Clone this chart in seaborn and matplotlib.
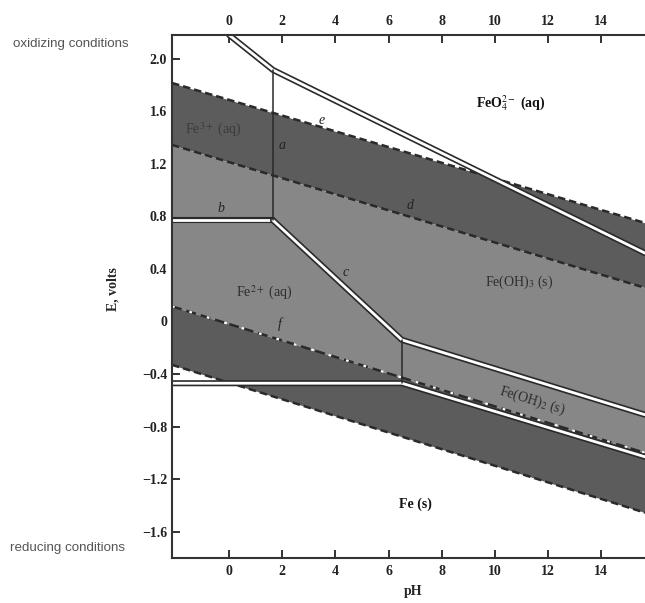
import matplotlib
matplotlib.use("Agg")
import matplotlib.pyplot as plt
import seaborn as sns
import numpy as np

# ----------------------------
# Pourbaix diagram for iron
# ----------------------------
ph_edges = [-2.15, 15.65]

# water stability lines (with overvoltage bands)
e_o2_over = [1.815, 0.75]    # upper dashed line
e_o2 = [1.344, 0.256]        # line d
e_h2 = [0.115, -1.0]         # line f
e_h2_over = [-0.33, -1.455]  # lower dashed line

# phase boundaries
line_e_ph = [0.0, 1.65, 15.65]
line_e_E = [2.18, 1.914, 0.52]
line_a_ph = [1.65, 1.65]
line_a_E = [1.914, 0.77]
line_b_ph = [-2.15, 1.65]
line_b_E = [0.77, 0.77]
line_c_ph = [1.65, 6.5, 15.65]
line_c_E = [0.77, -0.14, -0.71]
line_v_ph = [6.5, 6.5]
line_v_E = [-0.14, -0.47]
line_fe_ph = [-2.15, 6.5, 15.65]
line_fe_E = [-0.47, -0.47, -1.03]

xticks = [0, 2, 4, 6, 8, 10, 12, 14]
yticks = [2.0, 1.6, 1.2, 0.8, 0.4, 0, -0.4, -0.8, -1.2, -1.6]
ytick_labels = ["2.0", "1.6", "1.2", "0.8", "0.4", "0", "\u22120.4", "\u22120.8", "\u22121.2", "\u22121.6"]

dark = "#5c5c5c"
mid = "#878787"
ink = "#2a2a2a"

sns.set_theme(style="white")
plt.rcParams["font.family"] = ["Liberation Serif", "DejaVu Serif"]
plt.rcParams["mathtext.fontset"] = "stix"

fig = plt.figure(figsize=(6.45, 6.03), dpi=100)
ax = fig.add_axes([172/645, 45/603, 473/645, 523/603])

# shaded regions
ax.fill_between(ph_edges, e_o2, e_o2_over, color=dark, lw=0)
ax.fill_between(ph_edges, e_h2, e_o2, color=mid, lw=0)
ax.fill_between(ph_edges, e_h2_over, e_h2, color=dark, lw=0)

# dashed water lines
for yy in (e_o2_over, e_o2, e_h2_over):
    sns.lineplot(x=ph_edges, y=yy, ax=ax, color=ink, lw=1.8, estimator=None, sort=False)
    ax.lines[-1].set_dashes((3, 1.6))
sns.lineplot(x=ph_edges, y=e_h2, ax=ax, color=ink, lw=1.8, estimator=None, sort=False)
ax.lines[-1].set_dashes((4, 2))
sns.lineplot(x=ph_edges, y=e_h2, ax=ax, color="white", lw=1.6, estimator=None, sort=False)
ax.lines[-1].set_dashes((1.2, 7))

# double (hollow) phase boundaries
for px, py in [(line_e_ph, line_e_E), (line_b_ph, line_b_E),
               (line_c_ph, line_c_E), (line_fe_ph, line_fe_E)]:
    sns.lineplot(x=px, y=py, ax=ax, color=ink, lw=4.4, estimator=None, sort=False)
    sns.lineplot(x=px, y=py, ax=ax, color="white", lw=2.0, estimator=None, sort=False)

# single thin boundaries
for px, py in [(line_a_ph, line_a_E), (line_v_ph, line_v_E)]:
    sns.lineplot(x=px, y=py, ax=ax, color=ink, lw=1.1, estimator=None, sort=False)

ax.set_xlim(ph_edges)
ax.set_ylim(-1.80, 2.18)

# region labels
ax.text(10.6, 1.66, r"FeO$_4^{2-}$ (aq)", fontsize=10, fontweight="bold", color="#111111", ha="center", va="center")
ax.text(10.9, 0.30, r"Fe(OH)$_3$ (s)", fontsize=10, color="#2c2c2c", ha="center", va="center")
ax.text(1.3, 0.22, r"Fe$^{2+}$ (aq)", fontsize=10, color="#2c2c2c", ha="center", va="center")
ax.text(-0.6, 1.46, r"Fe$^{3+}$ (aq)", fontsize=10, color="#3a3a3a", ha="center", va="center")
ax.text(11.4, -0.60, r"Fe(OH)$_2$ (s)", fontsize=10, color="#2c2c2c", ha="center", va="center", rotation=-17)
ax.text(7.0, -1.39, "Fe (s)", fontsize=10, fontweight="bold", color="#111111", ha="center", va="center")

for lab, xx, yy in [("a", 2.0, 1.34), ("b", -0.3, 0.86), ("c", 4.4, 0.37),
                    ("d", 6.8, 0.88), ("e", 3.5, 1.53), ("f", 1.9, -0.02)]:
    ax.text(xx, yy, lab, fontsize=10, style="italic", color="#222222", ha="center", va="center")

# axes cosmetics
ax.set_xticks(xticks)
ax.set_yticks(yticks)
ax.set_yticklabels(ytick_labels)
ax.tick_params(axis="both", direction="in", length=6, width=1.3, colors="#222222",
               labelsize=10, top=True, labeltop=True, bottom=True, left=True)
ax.tick_params(axis="x", which="both", pad=5)
for lbl in ax.get_xticklabels() + ax.get_yticklabels():
    lbl.set_fontweight("bold")
for side in ("left", "top", "bottom"):
    ax.spines[side].set_color("#333333")
    ax.spines[side].set_linewidth(1.5)
ax.spines["right"].set_visible(False)

ax.set_xlabel("pH", fontsize=10, fontweight="bold")
ax.set_ylabel("E, volts", fontsize=10, fontweight="bold")
ax.xaxis.set_label_coords(0.51, -0.052)
ax.yaxis.set_label_coords(-0.112, 0.514)

fig.text(13/645, 1 - 44/603, "oxidizing conditions", fontsize=9.6, color="#555555",
         family="Liberation Sans", va="center", ha="left")
fig.text(10/645, 1 - 548/603, "reducing conditions", fontsize=9.6, color="#555555",
         family="Liberation Sans", va="center", ha="left")

fig.savefig("out.png", dpi=100)
plt.close(fig)
